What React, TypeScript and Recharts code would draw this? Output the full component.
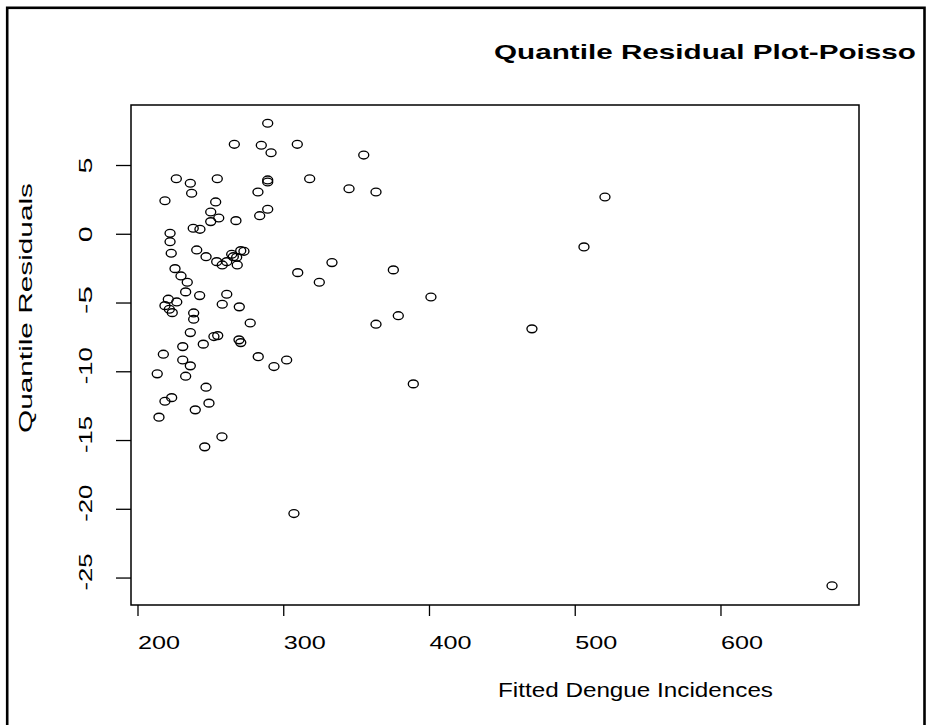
import { ScatterChart, Scatter, XAxis, YAxis, ReferenceArea } from 'recharts';

// fitted values (x) and quantile residuals (y)
const fitted = [
  289.0, 266.1, 284.6, 291.3, 309.3, 354.9, 226.3, 235.9, 254.4, 289.0,
  289.0, 317.8, 344.8, 363.3, 236.8, 282.3, 218.5, 253.3, 289.0, 249.9,
  283.5, 255.4, 249.9, 267.2, 237.9, 242.5, 222.0, 222.0, 222.8, 240.3,
  246.7, 254.0, 257.8, 260.9, 264.3, 265.4, 267.7, 270.5, 272.7, 268.1,
  333.1, 309.6, 324.4, 375.2, 225.4, 229.5, 233.8, 232.7, 242.3, 260.9,
  401.0, 220.8, 226.6, 218.5, 221.5, 223.5, 257.8, 269.5, 238.2, 238.2,
  277.0, 378.6, 363.3, 235.9, 252.1, 254.7, 269.3, 270.5, 244.8, 230.7,
  217.4, 282.5, 230.7, 302.0, 235.9, 293.3, 213.2, 232.7, 246.7, 388.9,
  218.5, 223.1, 248.7, 239.3, 214.4, 257.6, 245.8, 307.0, 520.4, 506.0,
  470.3, 676.2,
];
const residuals = [
  8.07, 6.54, 6.47, 5.93, 6.54, 5.76, 4.04, 3.71, 4.04, 3.95,
  3.8, 4.04, 3.31, 3.07, 2.98, 3.07, 2.44, 2.35, 1.82, 1.62,
  1.35, 1.18, 0.92, 0.99, 0.44, 0.36, 0.07, -0.54, -1.38, -1.14,
  -1.63, -1.99, -2.23, -1.99, -1.45, -1.63, -1.67, -1.19, -1.24, -2.23,
  -2.06, -2.79, -3.49, -2.59, -2.5, -3.03, -3.49, -4.19, -4.46, -4.36,
  -4.56, -4.72, -4.92, -5.19, -5.45, -5.7, -5.09, -5.28, -5.72, -6.18,
  -6.45, -5.92, -6.54, -7.15, -7.44, -7.37, -7.68, -7.88, -7.99, -8.17,
  -8.72, -8.9, -9.14, -9.14, -9.57, -9.62, -10.15, -10.32, -11.12, -10.88,
  -12.14, -11.88, -12.28, -12.77, -13.3, -14.73, -15.46, -20.31, 2.71, -0.92,
  -6.88, -25.56,
];

const xTicks = [200, 300, 400, 500, 600];
const yTicks = [-25, -20, -15, -10, -5, 0, 5];
const xDomain: [number, number] = [195.2, 694.7];
const yDomain: [number, number] = [-26.96, 9.4];

const data = fitted.map((x, i) => ({ x, y: residuals[i] }));

const FONT = '"Liberation Sans", Arial, sans-serif';

function Ring(props: any) {
  const { cx, cy } = props;
  return <ellipse cx={cx} cy={cy} rx={5} ry={3.9} fill="none" stroke="#000" strokeWidth={1.35} />;
}

function XTick(props: any) {
  const { x, payload } = props;
  return (
    <text x={x} y={649} fontFamily={FONT} fontSize={19} fill="#000"
      textLength={42} lengthAdjust="spacingAndGlyphs">
      {payload.value}
    </text>
  );
}

function YTick(props: any) {
  const { y, payload } = props;
  const s = String(payload.value);
  const len = s.length === 1 ? 16 : s.length === 2 ? 28 : 37;
  const cy = y - (s.length - 1) * 3;
  return (
    <text x={92} y={cy} fontFamily={FONT} fontSize={19} fill="#000"
      transform={`rotate(-90 92 ${cy})`} textAnchor="middle"
      textLength={len} lengthAdjust="spacingAndGlyphs">
      {s}
    </text>
  );
}

export default function App() {
  return (
    <div style={{ position: 'absolute', left: 0, top: 0, width: 928, height: 725, background: '#fff', overflow: 'hidden' }}>
      <ScatterChart width={928} height={725} margin={{ top: 105, right: 69, bottom: 60, left: 61 }}>
        <XAxis
          type="number"
          dataKey="x"
          domain={xDomain}
          ticks={xTicks}
          allowDataOverflow
          axisLine={false}
          tickSize={11}
          tickLine={{ stroke: '#000', strokeWidth: 1.3 }}
          tick={<XTick />}
          height={60}
          label={{
            content: () => (
              <text x={498} y={697} fontFamily={FONT} fontSize={20} fill="#000"
                textLength={275} lengthAdjust="spacingAndGlyphs">
                Fitted Dengue Incidences
              </text>
            ),
          }}
        />
        <YAxis
          type="number"
          dataKey="y"
          domain={yDomain}
          ticks={yTicks}
          allowDataOverflow
          axisLine={false}
          tickSize={15}
          tickLine={{ stroke: '#000', strokeWidth: 1.3 }}
          tick={<YTick />}
          width={70}
          label={{
            content: () => (
              <text x={32} y={433} fontFamily={FONT} fontSize={19} fill="#000"
                transform="rotate(-90 32 433)"
                textLength={250} lengthAdjust="spacingAndGlyphs">
                Quantile Residuals
              </text>
            ),
          }}
        />
        <ReferenceArea
          x1={xDomain[0]} x2={xDomain[1]} y1={yDomain[0]} y2={yDomain[1]}
          fill="none" stroke="#000" strokeWidth={1.5} fillOpacity={0} strokeOpacity={1}
          ifOverflow="visible"
        />
        <Scatter data={data} shape={<Ring />} isAnimationActive={false} />
      </ScatterChart>
      <svg width={928} height={725} style={{ position: 'absolute', left: 0, top: 0, pointerEvents: 'none' }}>
        <defs>
          <clipPath id="titleClip">
            <rect x={0} y={0} width={916} height={725} />
          </clipPath>
        </defs>
        <text x={494} y={59} fontFamily={FONT} fontSize={21} fontWeight="bold" fill="#000"
          clipPath="url(#titleClip)" textLength={440} lengthAdjust="spacingAndGlyphs">
          Quantile Residual Plot-Poisson
        </text>
        <rect x={7.2} y={7.8} width={917.3} height={1000} fill="none" stroke="#000" strokeWidth={2.6} />
      </svg>
    </div>
  );
}
